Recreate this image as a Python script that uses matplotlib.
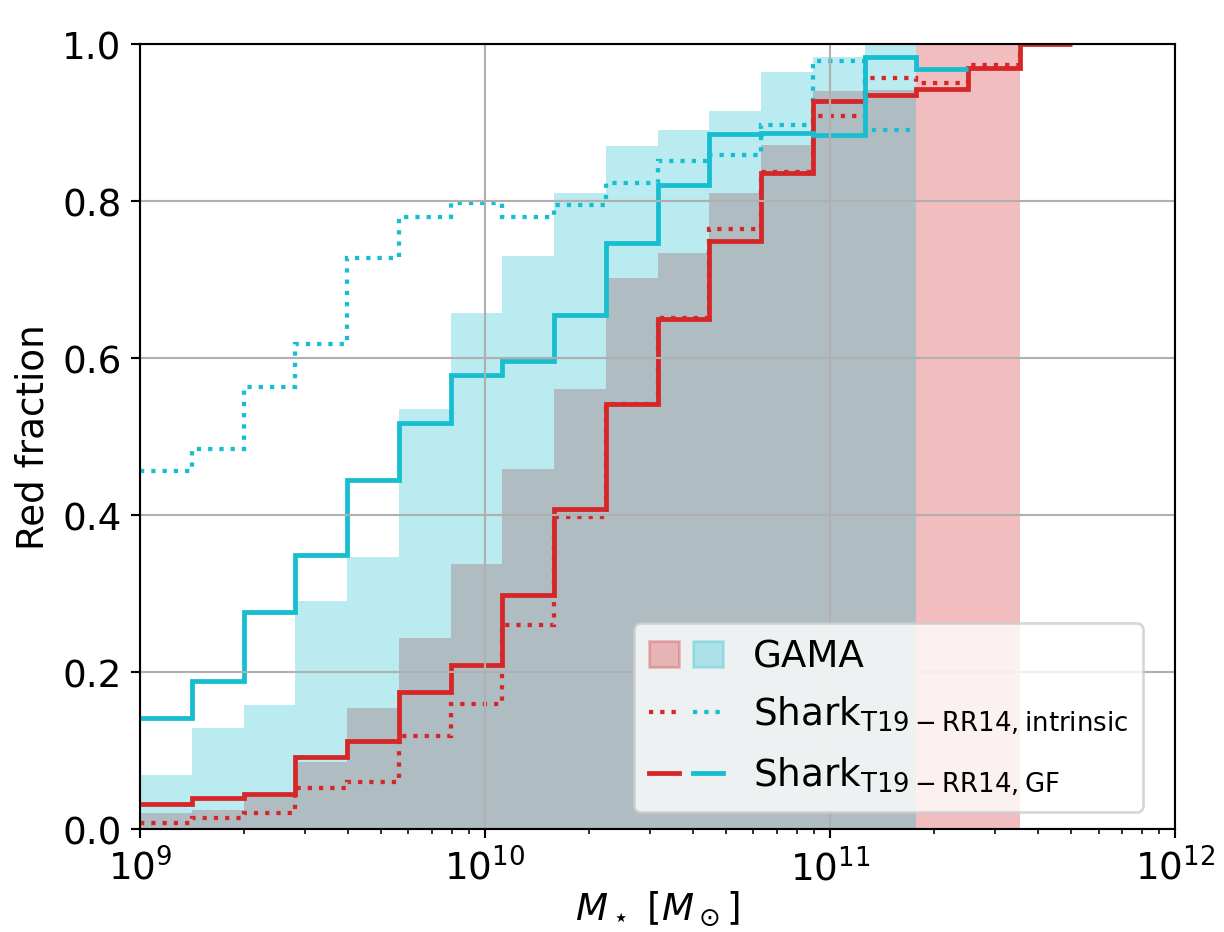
import numpy as np
import matplotlib
matplotlib.use("Agg")
import matplotlib.pyplot as plt
from matplotlib.patches import Patch
from matplotlib.lines import Line2D
from matplotlib.legend_handler import HandlerTuple

plt.rcParams['font.size'] = 14

# log10(M*) bins, 0.15 dex wide
edges = 9.0 + 0.15 * np.arange(19)

# GAMA red fractions (two samples)
gama_red = [0.020, 0.024, 0.042, 0.085, 0.154, 0.243, 0.337, 0.459, 0.560,
            0.702, 0.734, 0.810, 0.871, 0.940, 0.941, 1.0, 1.0]
gama_cyan = [0.069, 0.129, 0.158, 0.291, 0.346, 0.535, 0.657, 0.730, 0.810,
             0.870, 0.890, 0.915, 0.965, 0.984, 1.0]

# Shark, intrinsic colours
shark_int_red = [0.008, 0.014, 0.021, 0.052, 0.060, 0.118, 0.159, 0.260, 0.398,
                 0.542, 0.651, 0.764, 0.837, 0.908, 0.957, 0.951, 0.973, 1.0]
shark_int_cyan = [0.456, 0.484, 0.563, 0.618, 0.728, 0.780, 0.798, 0.780, 0.795,
                  0.823, 0.851, 0.859, 0.897, 0.978, 0.890]

# Shark, GF colours
shark_gf_red = [0.032, 0.040, 0.045, 0.092, 0.112, 0.175, 0.209, 0.298, 0.408,
                0.542, 0.650, 0.749, 0.836, 0.928, 0.935, 0.943, 0.969, 1.0]
shark_gf_cyan = [0.142, 0.188, 0.276, 0.349, 0.445, 0.517, 0.578, 0.596, 0.655,
                 0.747, 0.821, 0.885, 0.887, 0.884, 0.983, 0.968]

red = 'tab:red'
cyan = 'tab:cyan'


def mass(n):
    return 10 ** edges[:n + 1]


fig = plt.figure(figsize=(6.4, 4.878), dpi=191.25)
ax = fig.add_axes([0.1144, 0.1104, 0.8456, 0.8414])

ax.stairs(gama_red, mass(len(gama_red)), fill=True, color=red, alpha=0.3, lw=1)
ax.stairs(gama_cyan, mass(len(gama_cyan)), fill=True, color=cyan, alpha=0.3, lw=1)

ax.stairs(shark_int_red, mass(len(shark_int_red)), baseline=None, color=red, ls=':', lw=1.6)
ax.stairs(shark_int_cyan, mass(len(shark_int_cyan)), baseline=None, color=cyan, ls=':', lw=1.6)
ax.stairs(shark_gf_red, mass(len(shark_gf_red)), baseline=None, color=red, lw=1.8)
ax.stairs(shark_gf_cyan, mass(len(shark_gf_cyan)), baseline=None, color=cyan, lw=1.8)

ax.set_xscale('log')
ax.set_xlim(1e9, 1e12)
ax.set_ylim(0, 1)
ax.set_yticks([0, 0.2, 0.4, 0.6, 0.8, 1.0])
ax.grid(True, which='major')
ax.set_xlabel(r'$M_\star\ [M_\odot]$', labelpad=0.5)
ax.set_ylabel('Red fraction')

handles = [
    (Patch(color=red, alpha=0.3), Patch(color=cyan, alpha=0.3)),
    (Line2D([], [], color=red, ls=':', lw=1.6), Line2D([], [], color=cyan, ls=':', lw=1.6)),
    (Line2D([], [], color=red, lw=1.8), Line2D([], [], color=cyan, lw=1.8)),
]
labels = ['GAMA',
          r'Shark$_{\rm T19-RR14, intrinsic}$',
          r'Shark$_{\rm T19-RR14, GF}$']
ax.legend(handles, labels, loc='lower right', borderaxespad=0,
          bbox_to_anchor=(0.969, 0.0217),
          handler_map={tuple: HandlerTuple(ndivide=None)})

fig.savefig('out.png', dpi=191.25)
